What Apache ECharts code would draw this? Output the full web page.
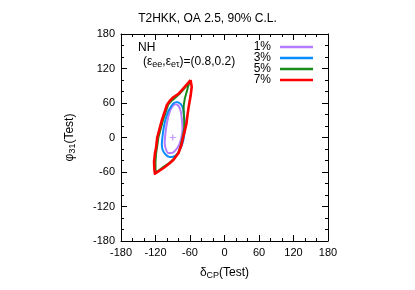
<!DOCTYPE html>
<html><head><meta charset="utf-8">
<script src="https://cdn.jsdelivr.net/npm/echarts@6/dist/echarts.min.js"></script>
<style>html,body{margin:0;padding:0;background:#fff}#c{width:415px;height:290px}</style>
</head><body><div id="c"></div>
<script>
// Axis ticks
const tickValues = [-180, -120, -60, 0, 60, 120, 180];
const seriesNames = ['1%', '3%', '5%', '7%'];
// Contours: [deltaCP, phi31]
const c1 = [[-85,58],[-80,55],[-76,45],[-74,30],[-73,15],[-75,0],[-79,-13],[-85,-22],[-92,-27],[-98,-27],[-102,-20],[-104,-10],[-103,5],[-101,20],[-98,35],[-94,48],[-89,56],[-85,58]];
const c3 = [[-82,62],[-76,58],[-72,50],[-70,35],[-69,20],[-70,5],[-73,-10],[-78,-22],[-83,-30],[-88,-33],[-95,-34],[-102,-30],[-107,-23],[-109,-12],[-108,0],[-106,15],[-103,30],[-98,45],[-93,54],[-88,60],[-82,62]];
const c5 = [[-61,96],[-65,82],[-69,68],[-71,55],[-71,45],[-70,30],[-70,16],[-73,0],[-76,-13],[-80,-26],[-88,-37],[-97,-45],[-106,-51],[-114,-57],[-119,-61],[-120,-55],[-120,-42],[-119,-28],[-117,-15],[-115,0],[-111,15],[-107,30],[-102,45],[-98,57],[-93,63],[-87,68],[-78,76],[-70,85],[-64,92],[-61,96]];
const c7 = [[-59,100],[-57,88],[-59,72],[-62,55],[-64,42],[-66,25],[-69,12],[-72,0],[-75,-13],[-80,-27],[-89,-39],[-97,-46],[-106,-53],[-115,-59],[-121,-63],[-122,-55],[-122.5,-42],[-121,-28],[-119,-18],[-117,0],[-113,15],[-109,30],[-104,45],[-100,57],[-95,64],[-89,70],[-80,76],[-70,87],[-63,95],[-59,100]];
const truePoint = [[-90, 0]];

const colors = ['#b57cff', '#0a8cff', '#1a8a1a', '#ff0000'];
const font = 'Liberation Sans, Arial, sans-serif';

const chart = echarts.init(document.getElementById('c'), null, {renderer: 'canvas'});
function axisBase(pos, showLabel) {
  return {
    type: 'value', position: pos, min: -180, max: 180, interval: 60,
    axisLine: {show: true, onZero: false, lineStyle: {color: '#000', width: 1}},
    axisTick: {show: true, inside: true, length: 6, lineStyle: {color: '#000'}},
    minorTick: {show: true, splitNumber: 3, length: 3, lineStyle: {color: '#000'}},
    splitLine: {show: false},
    axisLabel: {show: showLabel, color: '#000', fontSize: 11, fontFamily: font, margin: 6},
  };
}
const rich = {a:{fontSize:12, color:'#000', fontFamily: font}, s:{fontSize:9, color:'#000', fontFamily: font, padding:[6,0,0,0]}};
const xb = axisBase('bottom', true);
xb.name = '{a|δ}{s|CP}{a|(Test)}';
xb.nameLocation = 'middle'; xb.nameGap = 24;
xb.nameTextStyle = {color:'#000', fontFamily: font, rich: rich};
const yl = axisBase('left', true);
yl.name = '{a|φ}{s|31}{a|(Test)}';
yl.nameLocation = 'middle'; yl.nameGap = 44;
yl.nameTextStyle = {color:'#000', fontFamily: font, rich: rich};
const xt = axisBase('top', false);
const yr = axisBase('right', false);

const lineSeries = [c1, c3, c5, c7].map((d, i) => ({
  name: seriesNames[i], type: 'line', data: d, xAxisIndex: 0, yAxisIndex: 0,
  showSymbol: false, smooth: i < 2 ? 0.25 : false, animation: false,
  lineStyle: {color: colors[i], width: i === 3 ? 2.6 : 2, join: 'round'}, itemStyle: {color: colors[i]}, z: 2 + i
}));

chart.setOption({
  animation: false,
  title: {text: 'T2HKK, OA 2.5, 90% C.L.', left: 'center', top: 8,
    textStyle: {fontSize: 12, fontWeight: 'normal', color: '#000', fontFamily: font}},
  grid: {left: 121, top: 34, width: 207, height: 207},
  xAxis: [xb, xt],
  yAxis: [yl, yr],
  legend: {
    data: seriesNames, orient: 'vertical', right: 97, top: 36, align: 'right',
    icon: 'rect', itemWidth: 33, itemHeight: 2.5, itemGap: -1,
    textStyle: {fontSize: 12, color: '#000', fontFamily: font, lineHeight: 11.6, padding:[0,4,0,0]},
    selectedMode: false
  },
  graphic: [
    {type: 'text', left: 138, top: 42, style: {text: 'NH', fontSize: 12, fill: '#000', fontFamily: font}},
    {type: 'text', left: 143, top: 56, style: {
      text: '{a|(ε}{s|ee}{a|,ε}{s|eτ}{a|)=(0.8,0.2)}',
      rich: {a: {fontSize: 12, fill: '#000', fontFamily: font}, s: {fontSize: 9, fill: '#000', fontFamily: font, padding: [6,0,0,0]}}
    }}
  ],
  series: lineSeries.concat([{
    name: 'true', type: 'scatter', data: truePoint, symbol: 'path://M0,5L10,5M5,0L5,10',
    symbolSize: 6, itemStyle: {color: 'none', borderColor: '#b57cff', borderWidth: 1.2}, z: 10, animation: false
  }])
});
</script></body></html>
